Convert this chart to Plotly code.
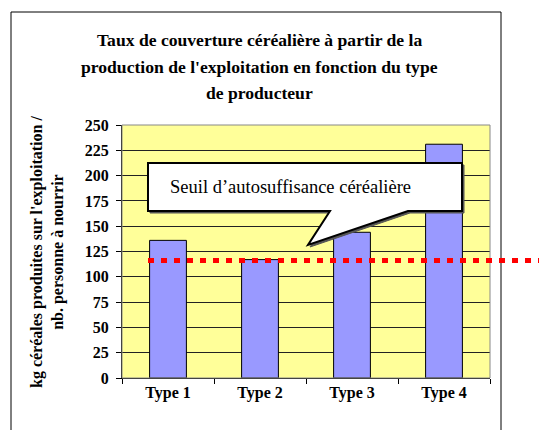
import plotly.graph_objects as go

types = ["Type 1", "Type 2", "Type 3", "Type 4"]
kg_par_personne = [136, 117, 144, 231]
seuil_autosuffisance = 116
y_ticks = [0, 25, 50, 75, 100, 125, 150, 175, 200, 225, 250]

titre_lignes = [
    "Taux de couverture céréalière à partir de la",
    "production de l'exploitation en fonction du type",
    "de producteur",
]
titre_axe_y = "kg céréales produites sur l'exploitation /<br>nb. personne à nourrir"
texte_bulle = "Seuil d’autosuffisance céréalière"

W, H = 547, 430
OFF = 8  # marge par défaut du <body>
L, R, T, B = 122 - OFF, 490 - OFF, 125 - OFF, 378 - OFF
SERIF = "Liberation Serif"


def px_x(x):
    return (x - OFF - L) / (R - L)


def px_y(y):
    return (B - (y - OFF)) / (B - T)


fig = go.Figure(
    go.Bar(
        x=types,
        y=kg_par_personne,
        marker=dict(color="#9999FF", line=dict(color="black", width=1)),
        width=0.4,
    )
)

shapes = []
# cadre extérieur
shapes.append(dict(type="rect", xref="paper", yref="paper",
                   x0=px_x(11), x1=px_x(501), y0=px_y(450), y1=px_y(12),
                   line=dict(color="black", width=1), layer="below"))
# bordure de la zone de tracé
shapes.append(dict(type="rect", xref="paper", yref="paper", x0=0, x1=1, y0=0, y1=1,
                   line=dict(color="#888888", width=1), layer="above"))


# bulle
def bulle_path(dx=0, dy=0):
    pts = [(148, 163), (462, 163), (462, 211), (408, 211), (308, 245), (330, 211), (148, 211)]
    return "M " + " L ".join(f"{px_x(x + dx):.5f},{px_y(y + dy):.5f}" for x, y in pts) + " Z"


shapes.append(dict(type="path", xref="paper", yref="paper", path=bulle_path(2, 2),
                   fillcolor="#555555", line=dict(color="#555555", width=1)))
shapes.append(dict(type="path", xref="paper", yref="paper", path=bulle_path(),
                   fillcolor="white", line=dict(color="black", width=2)))
# seuil
shapes.append(dict(type="line", xref="paper", yref="y",
                   x0=px_x(148), x1=px_x(560), y0=seuil_autosuffisance, y1=seuil_autosuffisance,
                   line=dict(color="#FF0000", width=5, dash="6px,7px")))

annotations = []
for i, ligne in enumerate(titre_lignes):
    annotations.append(dict(text=f"<b>{ligne}</b>", xref="paper", yref="paper",
                            x=px_x(259), y=px_y(40 + 26.5 * i), showarrow=False,
                            xanchor="center", yanchor="middle",
                            font=dict(family=SERIF, size=17.6, color="black")))
annotations.append(dict(text=f"<b>{titre_axe_y}</b>", xref="paper", yref="paper",
                        x=px_x(47), y=px_y(252), showarrow=False, textangle=-90,
                        xanchor="center", yanchor="middle",
                        font=dict(family=SERIF, size=16, color="black")))
annotations.append(dict(text=texte_bulle, xref="paper", yref="paper",
                        x=px_x(168), y=px_y(187), showarrow=False,
                        xanchor="left", yanchor="middle",
                        font=dict(family=SERIF, size=18.5, color="black")))

fig.update_layout(
    width=W, height=H,
    margin=dict(l=L, r=W - R, t=T, b=H - B, pad=0),
    paper_bgcolor="white",
    plot_bgcolor="#FFFF99",
    showlegend=False,
    bargap=0.6,
    shapes=shapes,
    annotations=annotations,
    font=dict(family=SERIF, color="black"),
)
fig.update_xaxes(
    showline=True, linecolor="black", linewidth=1,
    ticks="outside", ticklen=5, tickcolor="black", tickson="boundaries",
    tickfont=dict(family=SERIF, size=16, color="black", weight="bold"),
    showgrid=False,
)
fig.update_yaxes(
    range=[0, 250], tickvals=y_ticks,
    showline=True, linecolor="black", linewidth=1,
    ticks="outside", ticklen=5, tickcolor="black",
    tickfont=dict(family=SERIF, size=16, color="black", weight="bold"),
    showgrid=True, gridcolor="#222222", gridwidth=1, zeroline=False,
    ticklabelstandoff=4,
)

fig.write_html("out.html")
